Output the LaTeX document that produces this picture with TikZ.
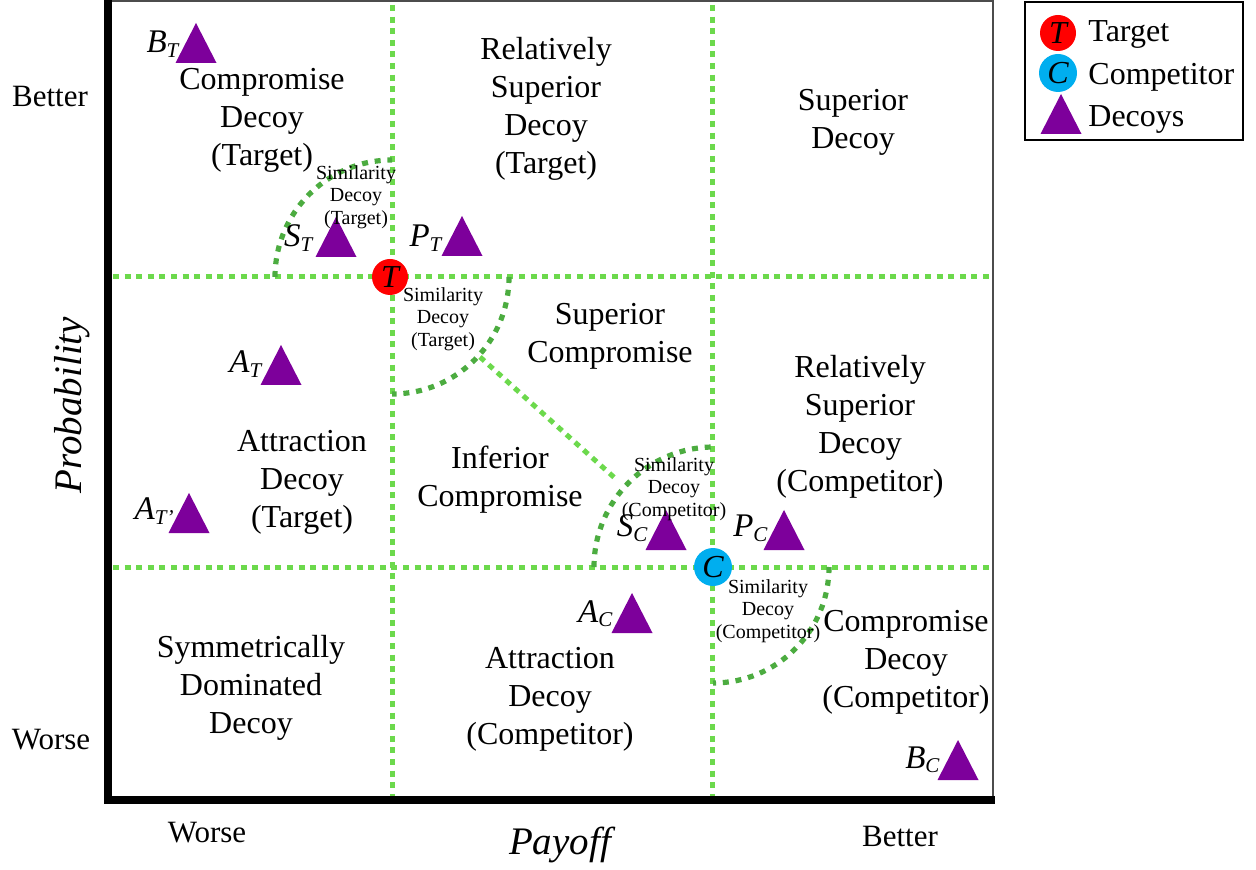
\documentclass[tikz,border=0pt]{standalone}
\usepackage{fontspec}
\setmainfont{Liberation Serif}
\definecolor{lgreen}{RGB}{108,217,76}
\definecolor{dgreen}{RGB}{76,172,64}
\definecolor{dpurple}{RGB}{125,0,155}
\definecolor{tred}{RGB}{255,0,0}
\definecolor{cblue}{RGB}{0,174,239}
\newcommand{\mainsz}{\fontsize{16}{19}\selectfont}
\newcommand{\smallsz}{\fontsize{10}{11.2}\selectfont}
\newcommand{\mklab}[2]{\textit{#1}\raisebox{-0.3ex}{\fontsize{10.5}{12}\selectfont\textit{#2}}}
\tikzset{
 region/.style={font=\mainsz, align=center, inner sep=0},
 simlab/.style={font=\smallsz, align=center, inner sep=0},
 axword/.style={font=\fontsize{15.5}{18}\selectfont, inner sep=0},
 axtitle/.style={font=\fontsize{19.5}{22}\selectfont\itshape, inner sep=0},
 divider/.style={lgreen, line width=2.5pt, dash pattern=on 3pt off 2.8pt},
 simarc/.style={dgreen, line width=2.6pt, dash pattern=on 3pt off 3.4pt},
 decoylab/.style={font=\fontsize{16.5}{19}\selectfont, inner sep=0, anchor=base east},
 option/.style={circle, inner sep=0, font=\fontsize{16}{19}\selectfont\itshape},
 decoy/.pic={\fill[dpurple] (0,-20) -- (20.5,20) -- (-20.5,20) -- cycle;},
}
\begin{document}
\begin{tikzpicture}[x=0.5pt,y=-0.5pt]
\useasboundingbox (0,0) rectangle (1256,870);
% frame
\coordinate (tl) at (108,0);
\coordinate (bl) at (108,800);
\coordinate (br) at (995,800);
\coordinate (tr) at (993,1);
\draw[gray!60!black, line width=0.8pt] (108,1) -- (tr) -- (993,800);
% dividers
\coordinate (v1t) at (392,5); \coordinate (v1b) at (392,796);
\coordinate (v2t) at (712,5); \coordinate (v2b) at (712,796);
\coordinate (h1l) at (113,277); \coordinate (h1r) at (992,277);
\coordinate (h2l) at (113,567); \coordinate (h2r) at (992,567);
\draw[divider] (v1t) -- (v1b);
\draw[divider] (v2t) -- (v2b);
\draw[divider] (h1l) -- (h1r);
\draw[divider] (h2l) -- (h2r);
\coordinate (d1) at (480,357);
\coordinate (d2) at (617,480);
\draw[divider] (d1) -- (d2);
% similarity arcs
\draw[simarc] (275,277) arc[start angle=180, end angle=270, radius=117];
\draw[simarc] (509,277) arc[start angle=0, end angle=90, radius=117];
\draw[simarc] (594,567) arc[start angle=180, end angle=270, radius=120];
\draw[simarc] (829,567) arc[start angle=0, end angle=90, radius=116];
% axes
\draw[line width=4pt, line join=miter] (tl) -- (bl) -- (br);
% options
\node[option, fill=tred, minimum size=18pt] (T) at (390,277) {T};
\node[option, fill=cblue, minimum size=19pt] (C) at (713,567) {C};
% decoys
\coordinate (BT) at (196,43);
\coordinate (ST) at (336,237);
\coordinate (PT) at (462,236);
\coordinate (AT) at (281,365);
\coordinate (ATp) at (189,513);
\coordinate (SC) at (666,530);
\coordinate (PC) at (784,530);
\coordinate (AC) at (632,613);
\coordinate (BC) at (958,760);
\foreach \p in {BT,ST,PT,AT,ATp,SC,PC,AC,BC} {\pic at (\p) {decoy};}
\node[decoylab] (lBT) at (180,53) {\mklab{B}{T}};
\node[decoylab] (lST) at (314,247) {\mklab{S}{T}};
\node[decoylab] (lPT) at (443,247) {\mklab{P}{T}};
\node[decoylab] (lAT) at (263,373) {\mklab{A}{T}};
\node[decoylab] (lATp) at (174,520) {\mklab{A}{T'}};
\node[decoylab] (lSC) at (648,537) {\mklab{S}{C}};
\node[decoylab] (lPC) at (768,537) {\mklab{P}{C}};
\node[decoylab] (lAC) at (613,622) {\mklab{A}{C}};
\node[decoylab] (lBC) at (940,768) {\mklab{B}{C}};
% region labels
\node[region] (r1) at (262,120) {Compromise\\Decoy\\(Target)};
\node[region] (r2) at (546,109) {Relatively\\Superior\\Decoy\\(Target)};
\node[region] (r3) at (853,122) {Superior\\Decoy};
\node[region] (r4) at (610,336) {Superior\\Compromise};
\node[region] (r5) at (860,427) {Relatively\\Superior\\Decoy\\(Competitor)};
\node[region] (r6) at (302,482) {Attraction\\Decoy\\(Target)};
\node[region] (r7) at (500,480) {Inferior\\Compromise};
\node[region] (r8) at (251,688) {Symmetrically\\Dominated\\Decoy};
\node[region] (r9) at (550,699) {Attraction\\Decoy\\(Competitor)};
\node[region] (r10) at (906,662) {Compromise\\Decoy\\(Competitor)};
% similarity labels
\node[simlab] (s1) at (356,197) {Similarity\\Decoy\\(Target)};
\node[simlab] (s2) at (443,319) {Similarity\\Decoy\\(Target)};
\node[simlab] (s3) at (674,489) {Similarity\\Decoy\\(Competitor)};
\node[simlab] (s4) at (768,611) {Similarity\\Decoy\\(Competitor)};
% axis labels
\node[axword] (yb) at (50,97) {Better};
\node[axword] (yw) at (51,740) {Worse};
\node[axword] (xw) at (207,833) {Worse};
\node[axword] (xb) at (900,836) {Better};
\node[axtitle] (xt) at (560,845) {Payoff};
\node[axtitle, rotate=90] (yt) at (72,405) {Probability};
% legend
\node[draw, line width=1.1pt, minimum width=109pt, minimum height=69pt, inner sep=0] (legend) at (1134,71) {};
\node[option, fill=tred, minimum size=18pt] (lgT) at (1058,33) {T};
\node[option, fill=cblue, minimum size=19pt] (lgC) at (1058,73) {C};
\coordinate (lgD) at (1061,114);
\pic at (lgD) {decoy};
\node[font=\mainsz, inner sep=0, anchor=base west] (tT) at (1088,42) {Target};
\node[font=\mainsz, inner sep=0, anchor=base west] (tC) at (1088,85) {Competitor};
\node[font=\mainsz, inner sep=0, anchor=base west] (tD) at (1088,127) {Decoys};
\end{tikzpicture}
\end{document}
